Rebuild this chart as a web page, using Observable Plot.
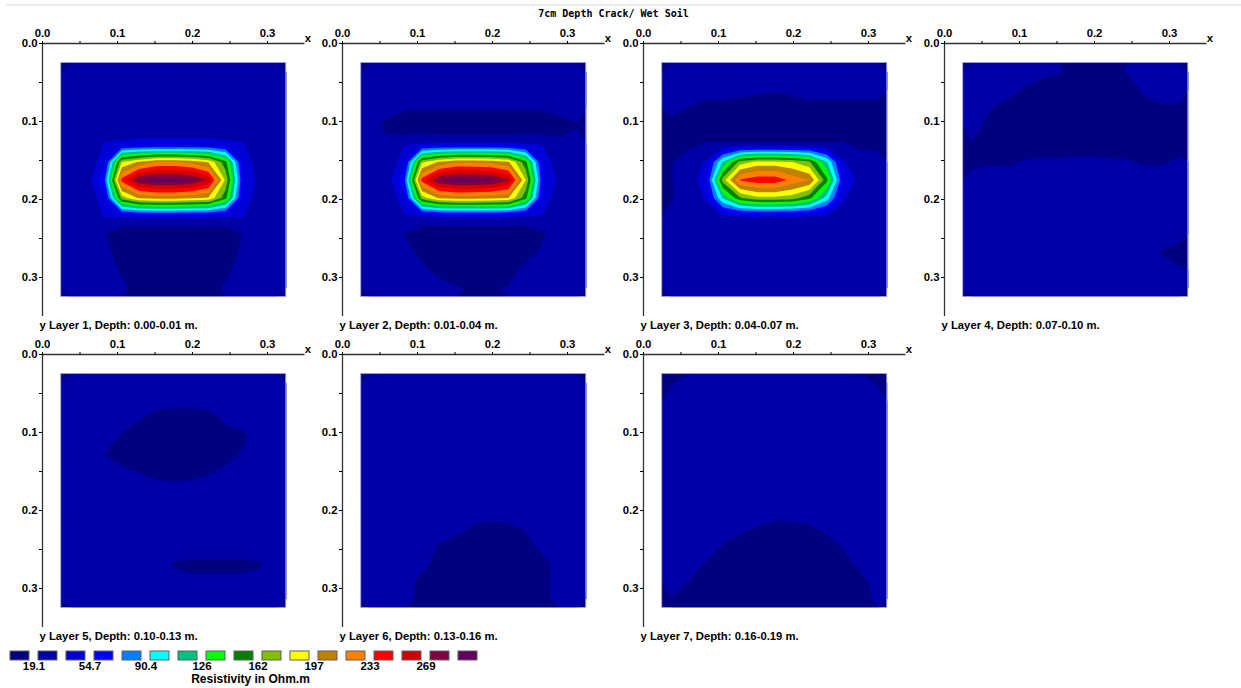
<!DOCTYPE html>
<html>
<head>
<meta charset="utf-8">
<script src="https://cdn.jsdelivr.net/npm/d3@7"></script>
<script src="https://cdn.jsdelivr.net/npm/@observablehq/plot@0.6"></script>
<style>
  body { margin: 0; background: #fff; }
  #fig { position: relative; width: 1241px; height: 688px; overflow: hidden; background: #fff;
         font-family: "Liberation Sans", Arial, sans-serif; }
  #topline { position: absolute; left: 6px; top: 4px; width: 1235px; height: 2px; background: #ececec; }
  #title { position: absolute; left: 0; top: 8px; width: 1227px; text-align: center;
           font: bold 10px "DejaVu Sans Mono", monospace; line-height: 12px; color: #000; }
</style>
</head>
<body>
<div id="fig"><div id="topline"></div><div id="title"></div></div>
<script>
// ---------------- data ----------------
const chartTitle = "7cm Depth Crack/ Wet Soil";
const layerLabels = [
  "Layer 1, Depth: 0.00-0.01 m.",
  "Layer 2, Depth: 0.01-0.04 m.",
  "Layer 3, Depth: 0.04-0.07 m.",
  "Layer 4, Depth: 0.07-0.10 m.",
  "Layer 5, Depth: 0.10-0.13 m.",
  "Layer 6, Depth: 0.13-0.16 m.",
  "Layer 7, Depth: 0.16-0.19 m."
];
// class boundaries of the resistivity colour scale (Ohm.m)
const boundaries = [19.1, 36.9, 54.7, 72.5, 90.4, 108.2, 126, 143.8, 161.7, 179.5, 197.3, 215.1, 233, 250.8, 268.6, 286.4];
const classColors = ["#000080", "#0000a8", "#0000d8", "#0000ff", "#0080ff", "#00ffff", "#00c080", "#00ff00",
  "#008000", "#80c000", "#ffff00", "#c08000", "#ff8000", "#ff0000", "#d00000", "#800040", "#600060"];
const legendTickLabels = ["19.1", "54.7", "90.4", "126", "162", "197", "233", "269"];
const legendTitle = "Resistivity in Ohm.m";
const axisTicks = [0, 0.05, 0.1, 0.15, 0.2, 0.25, 0.3];
const labelledTicks = [0, 0.1, 0.2, 0.3];
const axisDomain = [0, 0.35];
const gridExtent = [0.025, 0.325];   // x and y extent of the measured grid (m)
const gridSize = 13;                 // 13 x 13 samples, row 0 at y = 0.025

const layer1 = [
  [26,26,26,26,26,26,26,26,26,26,26,26,26],
  [26,26,26,26,26,26,26,26,26,26,26,26,26],
  [26,26,26,26,26,26,26,26,26,26,26,26,26],
  [26,26,26,26,26,26,26,26,26,26,26,26,26],
  [26,27,38,40,42,42,42,42,42,40,38,27,26],
  [26,26,45,180,200,215,215,210,195,150,45,28,26],
  [26,28,70,240,285,295,295,290,265,175,55,30,26],
  [26,26,45,170,200,205,205,200,195,150,45,28,26],
  [26,27,38,40,42,42,42,42,42,40,38,27,26],
  [26,25,21,4,2,2,2,2,2,4,20,25,26],
  [26,26,23,13,12,12,12,12,12,13,21,26,26],
  [26,26,25,17,12,12,12,12,12,16,25,26,26],
  [26,26,26,22,14,12,12,12,14,21,26,26,26]
];
const layer2 = [
  [26,26,26,26,26,26,26,26,26,26,26,26,26],
  [26,26,26,26,26,26,26,26,26,26,26,26,26],
  [26,26,22,22,22,22,22,22,22,22,22,24,26],
  [26,14,2,2,2,2,2,2,2,2,4,12,18],
  [26,26,36,38,40,40,40,40,40,38,36,24,26],
  [26,26,45,175,200,212,212,210,200,150,45,28,26],
  [26,28,70,240,285,295,293,290,270,180,55,30,26],
  [26,26,45,170,200,205,205,202,198,150,45,28,26],
  [26,27,36,38,40,40,40,40,40,38,36,27,26],
  [26,26,19,4,2,2,2,2,2,4,17,26,26],
  [26,26,26,13,12,12,12,12,12,13,22,26,26],
  [26,26,26,24,13,12,12,12,13,24,26,26,26],
  [26,26,26,26,26,20,18,18,20,26,26,26,26]
];
const layer3 = [
  [26,26,26,26,26,26,26,26,26,26,26,26,26],
  [26,26,26,26,24,22,20,22,26,26,26,26,26],
  [24,19,13,13,12,12,12,12,13,13,13,13,13],
  [14,12,12,12,12,12,12,12,12,12,12,12,12],
  [15,15,20,20,20,20,20,20,20,20,20,15,15],
  [18,28,38,110,170,185,185,180,165,110,38,26,26],
  [18,28,45,170,235,245,245,228,215,150,50,30,26],
  [18,26,38,110,160,175,175,170,150,100,38,26,26],
  [22,26,32,37,37,38,38,38,37,37,32,26,26],
  [26,26,26,26,26,26,26,26,26,26,26,26,26],
  [26,26,26,26,26,26,26,26,26,26,26,26,26],
  [26,26,26,26,26,26,26,26,26,26,26,26,26],
  [26,26,26,26,26,26,26,26,26,26,26,26,26]
];
const layer4 = [
  [26,26,26,26,22,20,17,16,15,20,26,26,26],
  [26,26,26,18,14,12,12,12,12,12,22,26,26],
  [26,21,12,12,12,12,12,12,12,12,14,17,17],
  [26,14,12,12,12,12,12,12,12,12,12,12,12],
  [18,12,12,12,12,12,12,12,12,12,12,12,12],
  [17,17,15,20,21,21,22,22,21,20,17,17,22],
  [22,27,30,26,26,26,26,26,26,26,27,27,26],
  [26,26,26,26,26,26,26,26,26,26,26,26,26],
  [26,26,26,26,26,26,26,26,26,26,26,26,26],
  [26,26,26,26,26,26,26,26,26,26,26,26,24],
  [26,26,26,26,26,26,26,26,26,26,26,18,14],
  [26,26,26,26,26,26,26,26,26,26,26,24,20],
  [26,26,26,26,26,26,26,26,26,26,26,26,26]
];
const layer5 = [
  [26,26,26,26,26,26,26,26,26,26,26,26,26],
  [26,26,26,26,26,26,24,24,26,26,26,26,26],
  [26,26,26,26,20,12,12,12,12,22,26,26,26],
  [26,26,26,17,12,12,12,12,12,12,16,26,26],
  [26,26,19,12,12,12,12,12,12,12,22,26,26],
  [26,26,26,24,19,15,13,14,18,24,26,26,26],
  [26,26,26,26,26,26,26,26,26,26,26,26,26],
  [26,26,26,26,26,26,26,26,26,26,26,26,26],
  [26,26,26,26,26,26,26,26,26,26,26,26,26],
  [26,26,26,26,26,26,28,28,28,28,28,28,26],
  [26,26,26,26,26,22,18.5,17,17,17,17,18.5,24],
  [26,26,26,26,26,26,20.5,20.5,20.5,20.5,20.5,20.5,26],
  [26,26,26,26,26,26,26,26,26,26,26,26,26]
];
const layer6 = [
  [26,26,26,26,26,26,26,26,26,26,26,26,26],
  [26,26,26,26,26,26,26,26,26,26,26,26,26],
  [26,26,26,26,26,26,26,26,26,26,26,26,26],
  [26,26,26,26,26,26,26,26,26,26,26,26,26],
  [26,26,26,26,26,26,26,26,26,26,26,26,26],
  [26,26,26,26,26,26,26,26,26,26,26,26,26],
  [26,26,26,26,26,26,26,26,26,26,26,26,26],
  [26,26,26,26,26,26,26,26,26,26,26,26,26],
  [26,26,26,26,26,26,18,16,17,21,26,26,26],
  [26,26,26,26,18,12,12,12,12,12,26,26,26],
  [26,26,26,26,12,12,12,12,12,12,14,26,26],
  [26,26,26,14,12,12,12,12,12,12,14,26,26],
  [26,26,26,14,12,12,12,12,12,12,14,26,26]
];
const layer7 = [
  [17,26,26,26,26,26,26,26,26,26,26,26,17],
  [26,26,26,26,26,26,26,26,26,26,26,26,26],
  [26,26,26,26,26,26,26,26,26,26,26,26,26],
  [26,26,26,26,26,26,26,26,26,26,26,26,26],
  [26,26,26,26,26,26,26,26,26,26,26,26,26],
  [26,26,26,26,26,26,26,26,26,26,26,26,26],
  [26,26,26,26,26,26,26,26,26,26,26,26,26],
  [26,26,26,26,26,26,26,26,26,26,26,26,26],
  [26,26,26,26,24,19,15,16,18,24,26,26,26],
  [26,26,26,18.5,12,12,12,12,12,12,22,26,26],
  [26,26,18.5,12,12,12,12,12,12,12,12,26,26],
  [26,19,12,12,12,12,12,12,12,12,12,14,26],
  [18.5,13,12,12,12,12,12,12,12,12,12,12,24]
];
const layers = [layer1, layer2, layer3, layer4, layer5, layer6, layer7];

// ---------------- layout ----------------
const fig = document.getElementById("fig");
document.getElementById("title").textContent = chartTitle;
function place(node, left, top) {
  node.style.position = "absolute";
  node.style.left = left + "px";
  node.style.top = top + "px";
  fig.appendChild(node);
}
const panelOrigins = [[42, 43], [342, 43], [643, 43], [944, 43], [42, 354], [342, 354], [643, 354]];
const mLeft = 38, mTop = 33, frameW = 262.5, frameH = 273;
const fmt = d => labelledTicks.includes(d) ? d.toFixed(1) : "";
const thresholds = [0, ...boundaries];

function panel(grid, label) {
  const values = grid.flat();
  const extent = [{x1: gridExtent[0], x2: gridExtent[1], y1: gridExtent[0], y2: gridExtent[1]}];
  return Plot.plot({
    width: 320, height: 330,
    marginLeft: mLeft, marginTop: mTop, marginRight: 320 - mLeft - frameW, marginBottom: 330 - mTop - frameH,
    x: {domain: axisDomain, axis: null},
    y: {domain: axisDomain, reverse: true, axis: null},
    color: {type: "threshold", domain: boundaries, range: classColors},
    style: {background: "transparent", overflow: "visible", fontFamily: "'Liberation Sans', Arial, sans-serif",
            fontSize: "11.3px", fontWeight: "bold", color: "#000"},
    marks: [
      Plot.rect(extent, {x1: "x1", x2: "x2", y1: "y1", y2: "y2", fill: classColors[0]}),
      Plot.contour(values, {
        width: gridSize, height: gridSize,
        x1: gridExtent[0], x2: gridExtent[1], y1: gridExtent[0], y2: gridExtent[1],
        thresholds, fill: Plot.identity, stroke: "none", smooth: true
      }),
      Plot.rect(extent, {x1: "x1", x2: "x2", y1: "y1", y2: "y2", fill: "none", stroke: "#a0a0f0", strokeWidth: 0.8}),
      Plot.ruleY([0], {stroke: "#333", strokeWidth: 1.3}),
      Plot.ruleX([0], {stroke: "#333", strokeWidth: 1.3}),
      Plot.axisX({anchor: "top", ticks: axisTicks, tickFormat: fmt, tickSize: 3, tickPadding: 4, label: null}),
      Plot.axisY({anchor: "left", ticks: axisTicks, tickFormat: fmt, tickSize: 3, tickPadding: 2, label: null}),
      Plot.text(["x"], {text: d => d, frameAnchor: "top-right", dx: 6, dy: -10}),
      Plot.text([label], {text: d => "y " + d, frameAnchor: "bottom-left", textAnchor: "start", dx: -3, dy: 12})
    ]
  });
}

layers.forEach((grid, k) => {
  const [ox, oy] = panelOrigins[k];
  place(panel(grid, layerLabels[k]), ox - mLeft, oy - mTop);
});

// ---------------- legend ----------------
const classIndex = classColors.map((c, i) => i);
const labelIndex = legendTickLabels.map((t, k) => ({i: 2 * k, t}));
const legend = Plot.plot({
  width: 500, height: 45,
  marginLeft: 0, marginRight: 0, marginTop: 6, marginBottom: 30,
  x: {type: "band", domain: classIndex, range: [9, 478], paddingInner: 0.32, paddingOuter: 0, axis: null},
  style: {background: "transparent", overflow: "visible", fontFamily: "'Liberation Sans', Arial, sans-serif",
          fontSize: "11.5px", fontWeight: "bold", color: "#000"},
  marks: [
    Plot.cell(classIndex, {x: d => d, fill: d => classColors[d], stroke: "#606060", strokeWidth: 1}),
    Plot.text(labelIndex, {x: "i", text: "t", frameAnchor: "bottom", dx: 14, dy: 9}),
    Plot.text([legendTitle], {text: d => d, frameAnchor: "bottom", dy: 22, fontSize: 12})
  ]
});
place(legend, 0, 645);
</script>
</body>
</html>
